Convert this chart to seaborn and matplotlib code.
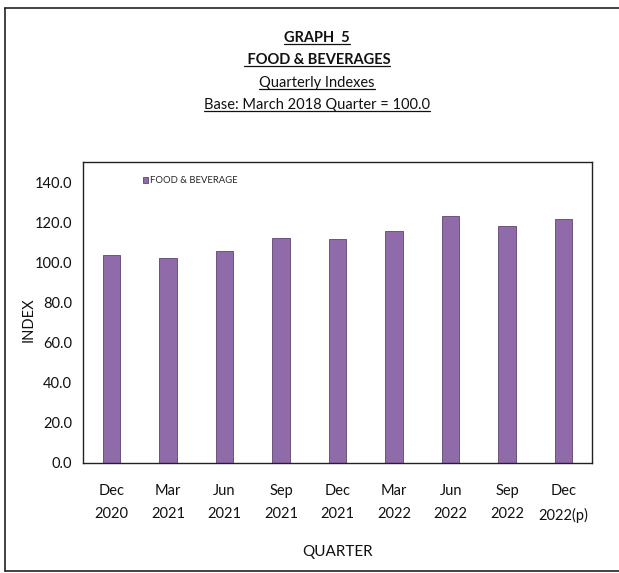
import matplotlib
matplotlib.use("Agg")
import matplotlib.pyplot as plt
import seaborn as sns
import pandas as pd
from matplotlib.lines import Line2D

quarters = ["Dec\n2020", "Mar\n2021", "Jun\n2021", "Sep\n2021", "Dec\n2021",
            "Mar\n2022", "Jun\n2022", "Sep\n2022", "Dec\n2022(p)"]
food_bev = [103.6, 102.2, 105.8, 112.2, 111.7, 115.8, 123.0, 118.2, 121.6]
y_ticks = [0, 20, 40, 60, 80, 100, 120, 140]
title_lines = ["GRAPH  5", " FOOD & BEVERAGES", "Quarterly Indexes",
               "Base: March 2018 Quarter = 100.0"]
series_name = "FOOD & BEVERAGE"

sns.set_theme(style="white")
plt.rcParams['font.family'] = ['Lato', 'DejaVu Sans']

df = pd.DataFrame({"quarter": quarters, "index": food_bev})

fig = plt.figure(figsize=(6.19, 5.73), dpi=100)
ax = fig.add_axes([83/619, 1-463/573, (592-83)/619, (463-162)/573])

sns.barplot(data=df, x="quarter", y="index", ax=ax, color="#8F6CA9",
            width=0.31, edgecolor="#5E4472", linewidth=0.6, saturation=1,
            label=series_name)

ax.set_ylim(0, 150)
ax.set_xlim(-0.5, len(quarters) - 0.5)
ax.set_yticks(y_ticks)
ax.set_yticklabels([f"{v:.1f}" for v in y_ticks])
ax.tick_params(axis='both', length=0, labelsize=10.5, colors="#111111")
ax.tick_params(axis='x', pad=15)
ax.tick_params(axis='y', pad=8)
for lbl in ax.get_xticklabels():
    lbl.set_linespacing(1.85)
for s in ax.spines.values():
    s.set_visible(True)
    s.set_color("#222222")
    s.set_linewidth(1.0)

ax.set_xlabel("QUARTER", fontsize=11, labelpad=16, color="#111111")
ax.set_ylabel("INDEX", fontsize=10.5, color="#111111")
ax.yaxis.set_label_coords(-0.094, 0.475)

leg = ax.legend(loc="upper left", bbox_to_anchor=(0.11, 0.965), frameon=False,
                fontsize=6.8, handlelength=0.6, handleheight=0.6, handletextpad=0.2,
                borderaxespad=0)

# Titles with underline
ys = [38, 60, 83, 105]
weights = ["bold", "bold", "normal", "normal"]
texts = []
for line, yy, w in zip(title_lines, ys, weights):
    t = fig.text(317/619, 1 - yy/573, line, ha="center", va="center",
                 fontsize=10.5, fontweight=w, color="#111111")
    texts.append(t)

fig.canvas.draw()
renderer = fig.canvas.get_renderer()
for t in texts:
    bb = t.get_window_extent(renderer).transformed(fig.transFigure.inverted())
    yline = bb.y0 + 0.002
    fig.add_artist(Line2D([bb.x0, bb.x1], [yline, yline], transform=fig.transFigure,
                          color="#111111", lw=0.9))

# outer frame
fc = "#222222"
fig.add_artist(Line2D([5/619, 1.0], [1-8/573, 1-8/573], transform=fig.transFigure, color=fc, lw=1.2))
fig.add_artist(Line2D([5/619, 5/619], [1-8/573, 1-571/573], transform=fig.transFigure, color=fc, lw=1.2))
fig.add_artist(Line2D([5/619, 1.0], [1-571/573, 1-571/573], transform=fig.transFigure, color=fc, lw=1.2))

fig.savefig("out.png", dpi=100)
